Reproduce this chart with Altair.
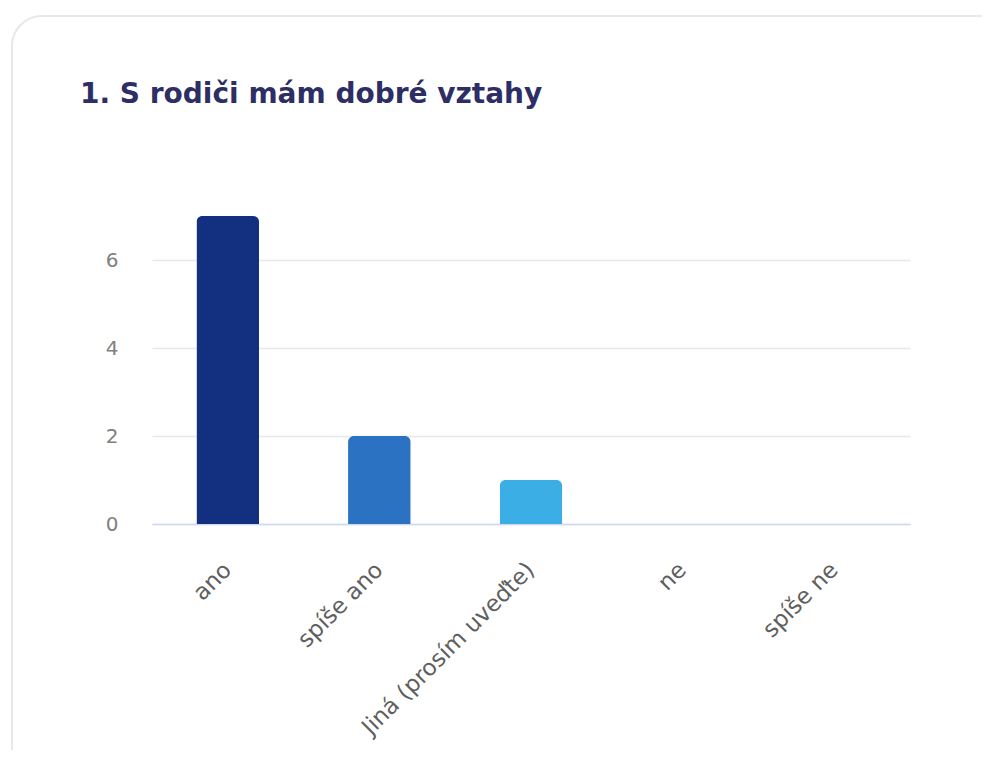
import altair as alt
import pandas as pd

categories = ["ano", "spíše ano", "Jiná (prosím uveďte)", "ne", "spíše ne"]
counts = [7, 2, 1, 0, 0]
colors = ["#12307f", "#2c72c3", "#3aaee5", "#7fc6ef", "#a9d8f4"]
y_ticks = [0, 2, 4, 6]
title_text = "1. S rodiči mám dobré vztahy"

df = pd.DataFrame({"kategorie": categories, "pocet": counts, "barva": colors})
one = pd.DataFrame({"k": [0]})

card = alt.Chart(one).mark_rect(
    filled=False, stroke="#e7e7ec", strokeWidth=2, cornerRadius=30
).encode(
    x=alt.value(-140), x2=alt.value(860), y=alt.value(-200), y2=alt.value(620)
)

title = alt.Chart(one).mark_text(
    align="left", baseline="alphabetic", font="DejaVu Sans", fontSize=28,
    fontWeight="bold", color="#2d2e64"
).encode(
    x=alt.value(-72), y=alt.value(-113), text=alt.value(title_text)
)

bars = alt.Chart(df).mark_bar(cornerRadiusTopLeft=6, cornerRadiusTopRight=6).encode(
    x=alt.X(
        "kategorie:N",
        sort=categories,
        scale=alt.Scale(paddingInner=0.587, paddingOuter=0.293),
        axis=alt.Axis(
            title=None,
            labelAngle=-45,
            labelAlign="right",
            labelBaseline="middle",
            labelPadding=42,
            labelLimit=0,
            ticks=False,
            domainColor="#cdd9f0",
            domainWidth=1.5,
            labelColor="#5f5f5f",
            labelFont="DejaVu Sans",
            labelFontSize=23,
            grid=False,
        ),
    ),
    y=alt.Y(
        "pocet:Q",
        scale=alt.Scale(domain=[0, 7], nice=False),
        axis=alt.Axis(
            title=None,
            values=y_ticks,
            ticks=False,
            domain=False,
            labelPadding=34,
            labelColor="#808080",
            labelFont="DejaVu Sans",
            labelFontSize=20,
            gridColor="#e8e8ec",
            gridWidth=1.5,
        ),
    ),
    color=alt.Color("barva:N", scale=None, legend=None),
)

chart = alt.layer(card, bars, title).properties(
    width=758,
    height=308,
    padding={"left": 144, "top": 208, "right": 72, "bottom": 226},
    autosize=alt.AutoSizeParams(type="none"),
).configure_view(stroke=None)

chart.save("out.html", embed_options={"renderer": "svg", "actions": False})
